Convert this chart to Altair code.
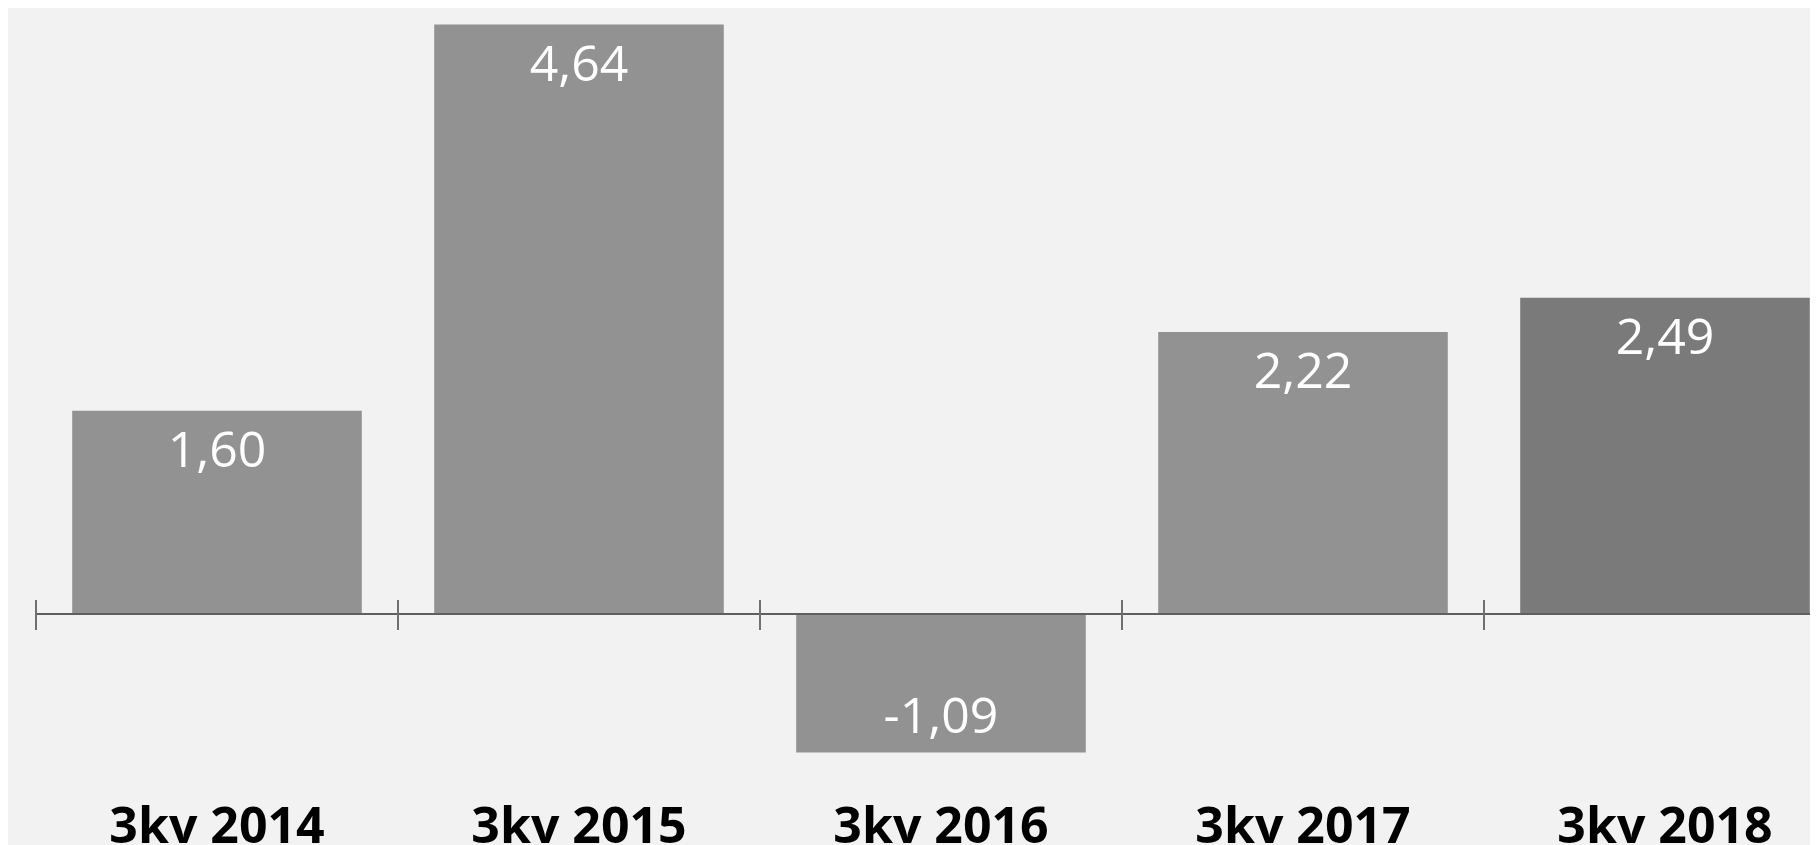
import altair as alt
import pandas as pd

categories = ["3kv 2014", "3kv 2015", "3kv 2016", "3kv 2017", "3kv 2018"]
values = [1.60, 4.64, -1.09, 2.22, 2.49]
labels = ["1,60", "4,64", "-1,09", "2,22", "2,49"]
highlight = [False, False, False, False, True]

df = pd.DataFrame({"cat": categories, "value": values, "label": labels, "hl": highlight})

base = alt.Chart(df)

x_bar = alt.X(
    "cat:N", sort=categories,
    scale=alt.Scale(range=[0, 1810], paddingInner=0.2, paddingOuter=0.1),
    axis=alt.Axis(title=None, domain=False, ticks=False, labelAngle=0,
                  labelFont="Open Sans", labelFontWeight="bold", labelFontSize=50,
                  labelColor="#000000", labelBaseline="alphabetic", labelPadding=12,
                  labelOverlap=False, labelLimit=0),
)
y_enc = alt.Y("value:Q", scale=alt.Scale(domain=[-1.7, 4.7], nice=False, zero=False), axis=None)

bars = base.mark_bar().encode(
    x=x_bar,
    y=y_enc,
    y2=alt.datum(0),
    color=alt.condition(alt.datum.hl, alt.value("#7a7a7a"), alt.value("#929292")),
)

txt_style = dict(font="Open Sans", fontSize=50, fontWeight="normal", color="#ffffff",
                 align="center", baseline="alphabetic")
pos_text = base.transform_filter(alt.datum.value >= 0).mark_text(dy=56, **txt_style).encode(
    x=alt.X("cat:N", sort=categories), y=alt.Y("value:Q"), text="label:N")
neg_text = base.transform_filter(alt.datum.value < 0).mark_text(dy=-20, **txt_style).encode(
    x=alt.X("cat:N", sort=categories), y=alt.Y("value:Q"), text="label:N")

zero_line = base.mark_rule(color="#5f5f5f", strokeWidth=2).encode(y=alt.datum(0))

ticks = base.mark_rule(color="#707070", strokeWidth=2, yOffset=-14, y2Offset=16).encode(
    x=alt.X("cat:N", sort=categories,
            scale=alt.Scale(range=[0, 1810], paddingInner=0, paddingOuter=0),
            bandPosition=0, axis=None),
    y=alt.datum(0),
    y2=alt.datum(0),
)

main = alt.layer(bars, pos_text, neg_text, zero_line)

chart = alt.layer(main, ticks).resolve_scale(x="independent").properties(
    width=1774,
    height=813,
    autosize=alt.AutoSizeParams(type="none"),
    padding={"left": 28, "top": 9, "right": 0, "bottom": 15},
    background="#f2f2f2",
).configure_view(stroke=None)

chart.save("out.html", embed_options={"renderer": "svg", "actions": False})
